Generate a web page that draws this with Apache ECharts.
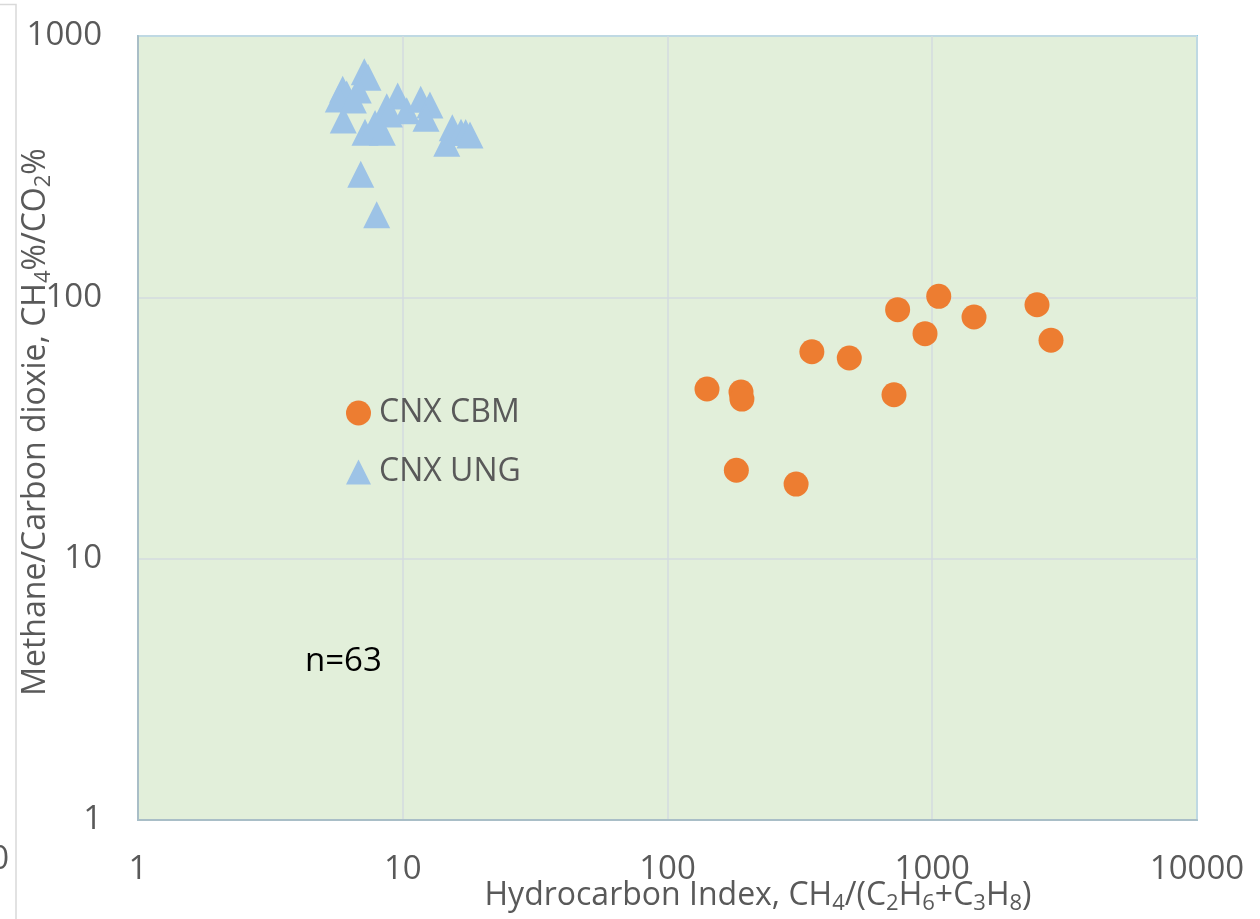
<!DOCTYPE html>
<html>
<head>
<meta charset="utf-8">
<script src="https://cdn.jsdelivr.net/npm/echarts@6/dist/echarts.min.js"></script>
<style>html,body{margin:0;padding:0;background:#fff}#c{width:1260px;height:919px}</style>
</head>
<body>
<div id="c"></div>
<script>
// ---- data ----
var seriesNames = ['CNX CBM', 'CNX UNG'];
var cbmX = [141, 189.5, 191, 351, 486, 740, 1058, 939, 1438, 2487, 2809, 717, 182, 306];
var cbmY = [44.6, 43.4, 40.8, 61.9, 58.6, 89.7, 100.9, 72.6, 84.1, 93.7, 68.5, 42.4, 21.8, 19.3];
var ungX = [7.16, 7.39, 5.93, 6.14, 5.71, 5.96, 7.20, 8.37, 9.57, 8.70, 10.35, 8.90, 11.69, 12.67, 12.24, 15.39, 16.6, 17.29, 17.95, 14.66, 6.94, 7.97, 6.51, 7.86, 6.79];
var ungY = [730, 695, 625, 600, 574, 477, 428, 428, 589, 536, 518, 503, 573, 545, 484, 446, 428, 427, 418, 389, 296, 207, 569, 463, 622];
var xTicks = [1, 10, 100, 1000, 10000];
var yTicks = [1, 10, 100, 1000];
var noteText = 'n=63';

function pairs(xs, ys) { return xs.map(function (x, i) { return [x, ys[i]]; }); }

var FONT = 'Open Sans';
var GRAY = '#595959';

var chart = echarts.init(document.getElementById('c'), null, { renderer: 'canvas' });

var titleRich = {
  a: { fontFamily: FONT, fontSize: 32, lineHeight: 38, fill: GRAY, color: GRAY },
  s: { fontFamily: FONT, fontSize: 22, lineHeight: 14, verticalAlign: 'bottom', fill: GRAY, color: GRAY }
};

chart.setOption({
  backgroundColor: '#ffffff',
  animation: false,
  grid: {
    left: 138, right: 63, top: 36, bottom: 99,
    show: true, backgroundColor: '#E2EFDA', borderColor: '#85D3EE', borderWidth: 2
  },
  legend: {
    orient: 'vertical', left: 341, top: 392, padding: 5,
    itemWidth: 25, itemHeight: 25, itemGap: 27,
    textStyle: { fontFamily: FONT, fontSize: 32, color: GRAY, lineHeight: 32, padding: [0, 0, 0, 3] },
    data: [{ name: seriesNames[0], icon: 'circle' }, { name: seriesNames[1], icon: 'triangle' }]
  },
  xAxis: {
    type: 'log', logBase: 10, min: xTicks[0], max: xTicks[xTicks.length - 1],
    axisLine: { show: true, lineStyle: { color: '#A9BEC7', width: 2 } },
    axisTick: { show: false },
    axisLabel: { fontFamily: FONT, fontSize: 33, color: GRAY, margin: 33, formatter: function (v) { return String(v); } },
    splitLine: { show: true, lineStyle: { color: '#D3DBDF', width: 1.5 } },
    minorTick: { show: false }
  },
  yAxis: {
    type: 'log', logBase: 10, min: yTicks[0], max: yTicks[yTicks.length - 1],
    axisLine: { show: true, lineStyle: { color: '#A9BEC7', width: 2 } },
    axisTick: { show: false },
    axisLabel: { fontFamily: FONT, fontSize: 33, color: GRAY, margin: 36, formatter: function (v) { return String(v); } },
    splitLine: { show: true, lineStyle: { color: '#D3DBDF', width: 1.5 } }
  },
  series: [
    {
      name: seriesNames[0], type: 'scatter', symbol: 'circle', symbolSize: 25,
      itemStyle: { color: '#ED7D31', opacity: 1 },
      data: pairs(cbmX, cbmY), z: 3
    },
    {
      name: seriesNames[1], type: 'scatter', symbol: 'triangle', symbolSize: 27,
      itemStyle: { color: '#9DC3E6', opacity: 1 },
      data: pairs(ungX, ungY), z: 3
    }
  ],
  graphic: [
    {
      type: 'text', x: 758, y: 896, z: 10,
      style: {
        text: '{a|Hydrocarbon Index, CH}{s|4}{a|/(C}{s|2}{a|H}{s|6}{a|+C}{s|3}{a|H}{s|8}{a|)}',
        rich: titleRich, align: 'center', verticalAlign: 'middle'
      }
    },
    {
      type: 'text', x: 36, y: 422, rotation: Math.PI / 2, z: 10,
      style: {
        text: '{a|Methane/Carbon dioxie, CH}{s|4}{a|%/CO}{s|2}{a|%}',
        rich: titleRich, align: 'center', verticalAlign: 'middle'
      }
    },
    {
      type: 'text', x: 305, y: 662, z: 10,
      style: { text: noteText, fontFamily: FONT, fontSize: 33, fill: '#000000', align: 'left', verticalAlign: 'middle' }
    },
    {
      type: 'polyline', z: 1,
      shape: { points: [[0, 4.5], [16, 4.5], [16, 919]] },
      style: { stroke: '#D9D9D9', lineWidth: 1.5, fill: null }
    },
    {
      type: 'text', x: 9, y: 860, z: 10,
      style: { text: '0', fontFamily: FONT, fontSize: 33, fill: GRAY, align: 'right', verticalAlign: 'middle' }
    }
  ]
});
</script>
</body>
</html>
